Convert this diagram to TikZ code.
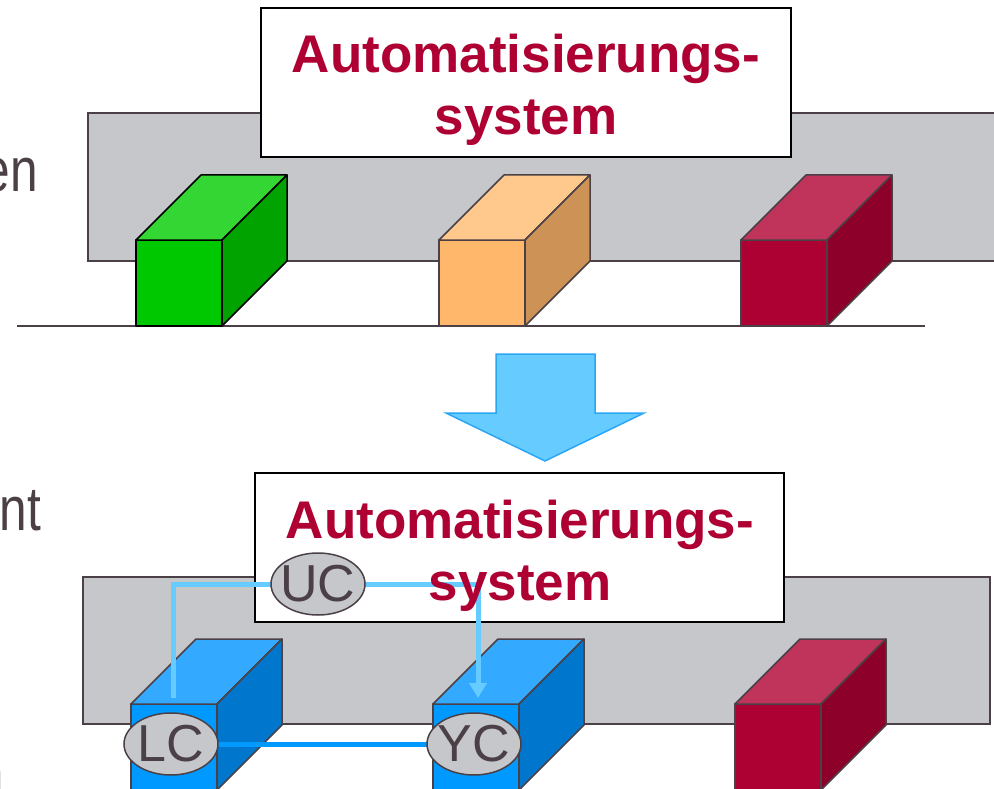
\documentclass[tikz,border=0pt]{standalone}
\usepackage{fontspec}
\setmainfont{Liberation Sans}
\usetikzlibrary{shapes.geometric,arrows.meta}

\definecolor{panelgray}{HTML}{C6C7CB}
\definecolor{edgegray}{HTML}{4B4046}
\definecolor{titlered}{HTML}{AE0032}
\definecolor{greenF}{HTML}{00C800}
\definecolor{greenT}{HTML}{33D633}
\definecolor{greenS}{HTML}{00A300}
\definecolor{orangeF}{HTML}{FFB76B}
\definecolor{orangeT}{HTML}{FFC88C}
\definecolor{orangeS}{HTML}{CD9356}
\definecolor{redF}{HTML}{AD0033}
\definecolor{redT}{HTML}{C0335A}
\definecolor{redS}{HTML}{8C0029}
\definecolor{blueF}{HTML}{0099FF}
\definecolor{blueT}{HTML}{33AAFF}
\definecolor{blueS}{HTML}{0077CC}
\definecolor{lightlink}{HTML}{66CCFF}
\definecolor{darklink}{HTML}{0099FF}
\definecolor{arrowedge}{HTML}{2BA6F5}

% cube: #1 front-left x, #2 front-top y, #3 front, #4 top, #5 side, #6 outline
\newcommand\drawcube[6]{%
  \begin{scope}[shift={(#1,#2)}, draw=#6, line width=1.5pt, line join=round]
    \filldraw[fill=#3] (0,0) rectangle (86,86);
    \filldraw[fill=#4] (0,0) -- (65,-65) -- (151,-65) -- (86,0) -- cycle;
    \filldraw[fill=#5] (86,0) -- (151,-65) -- (151,21) -- (86,86) -- cycle;
  \end{scope}}

\begin{document}
\begin{tikzpicture}[x=1pt, y=-1pt,
    panel/.style={fill=panelgray, draw=edgegray, line width=1.5pt},
    titlebox/.style={fill=white, draw=black, line width=2pt},
    titletext/.style={anchor=base, inner sep=0pt, text=titlered,
      font=\fontsize{53}{60}\selectfont\bfseries},
    sidetext/.style={anchor=base east, inner sep=0pt, text=edgegray,
      font=\fontsize{62}{70}\selectfont},
    pill/.style={ellipse, fill=panelgray, draw=edgegray, line width=1.5pt,
      minimum width=94pt, minimum height=62pt, inner sep=0pt},
    pilltext/.style={inner sep=0pt, text=edgegray,
      font=\fontsize{52}{60}\selectfont},
    lightline/.style={draw=lightlink, line width=5pt},
    darkline/.style={draw=darklink, line width=5pt}]

\useasboundingbox (0,0) rectangle (994,789);

% side labels, partly outside the page
\node[sidetext] (lblA) at (38,192) {\scalebox{0.8}[1]{en}};
\node[sidetext] (lblB) at (41,530) {\scalebox{0.8}[1]{nt}};
\node[sidetext] (lblC) at (4,804) {\scalebox{0.8}[1]{u}};

% ---------- upper scene ----------
\draw[panel] (88,113) rectangle (1010,261);
\draw[titlebox] (261,8) rectangle (791,157);
\node[titletext] (titleA1) at (526,73) {Automatisierungs-};
\node[titletext] (titleA2) at (526,135) {system};
\draw[draw=edgegray, line width=1.5pt] (17,326) -- (925,326);
\drawcube{136}{240}{greenF}{greenT}{greenS}{black}
\drawcube{439}{240}{orangeF}{orangeT}{orangeS}{edgegray}
\drawcube{741}{240}{redF}{redT}{redS}{edgegray}

% ---------- transition arrow ----------
\filldraw[fill=lightlink, draw=arrowedge, line width=1.5pt, line join=miter]
  (496,354) -- (595,354) -- (595,413) -- (644,413) -- (545,461)
  -- (446,413) -- (496,413) -- cycle;

% ---------- lower scene ----------
\draw[panel] (83,577) rectangle (990,724);
\draw[titlebox] (255,473) rectangle (784,622);
\drawcube{131}{704}{blueF}{blueT}{blueS}{edgegray}
\drawcube{433}{704}{blueF}{blueT}{blueS}{edgegray}
\drawcube{735}{704}{redF}{redT}{redS}{edgegray}

\coordinate (ucpos) at (318,584);
\coordinate (lcpos) at (171,744);
\coordinate (ycpos) at (474,744);

% control links
\draw[lightline] ([shift={(2pt,46pt)}]lcpos) |- (ucpos);
\draw[lightline, -{Triangle[width=17pt,length=15pt]}]
  (ucpos) -| ([shift={(4pt,46pt)}]ycpos);
\draw[darkline] (lcpos) -- (ycpos);

\node[titletext] (titleB1) at (520,538) {Automatisierungs-};
\node[titletext] (titleB2) at (520,600) {system};

\node[pill] (UC) at (ucpos) {};
\node[pilltext] at (UC) {UC};
\node[pill] (LC) at (lcpos) {};
\node[pilltext] at (LC) {LC};
\node[pill] (YC) at (ycpos) {};
\node[pilltext] at (YC) {YC};

\end{tikzpicture}
\end{document}
